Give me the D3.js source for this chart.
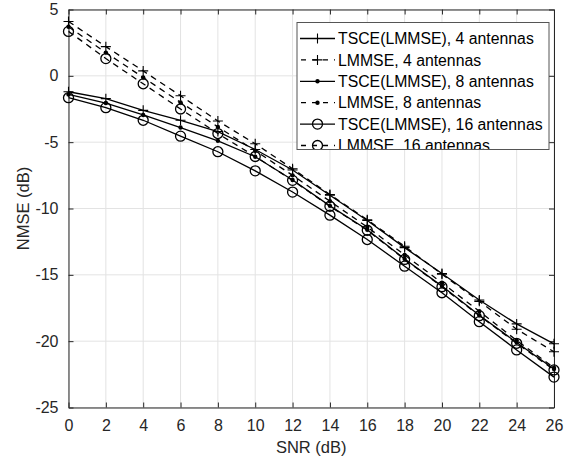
<!DOCTYPE html>
<html>
<head>
<meta charset="utf-8">
<script src="https://cdn.jsdelivr.net/npm/d3@7"></script>
<style>
  body { margin: 0; background: #fff; }
  text { font-family: "Liberation Sans", Arial, sans-serif; }
</style>
</head>
<body>
<svg id="chart" width="578" height="462"></svg>
<script>
// SNR sweep (dB)
const snr = [0, 2, 4, 6, 8, 10, 12, 14, 16, 18, 20, 22, 24, 26];

// NMSE (dB) per estimator / antenna count
const tsce4   = [-1.2, -1.72, -2.6, -3.35, -4.2, -5.55, -7.1, -9.0, -10.9, -12.95, -14.9, -16.9, -18.7, -20.2];
const lmmse4  = [4.1, 2.2, 0.37, -1.5, -3.4, -5.12, -7.0, -8.95, -10.85, -12.85, -14.95, -17.0, -19.1, -20.8];
const tsce8   = [-1.4, -2.05, -2.95, -3.9, -4.9, -6.1, -7.85, -9.8, -11.6, -13.8, -15.85, -18.05, -20.1, -22.1];
const lmmse8  = [3.7, 1.75, -0.12, -2.0, -3.85, -5.65, -7.5, -9.45, -11.4, -13.5, -15.6, -17.75, -19.95, -22.0];
const tsce16  = [-1.65, -2.4, -3.35, -4.55, -5.72, -7.16, -8.76, -10.5, -12.34, -14.35, -16.35, -18.53, -20.66, -22.71];
const lmmse16 = [3.35, 1.3, -0.6, -2.5, -4.35, -6.08, -7.88, -9.83, -11.64, -13.84, -15.9, -18.08, -20.16, -22.17];

const seriesLabels = [
  "TSCE(LMMSE), 4 antennas",
  "LMMSE, 4 antennas",
  "TSCE(LMMSE), 8 antennas",
  "LMMSE, 8 antennas",
  "TSCE(LMMSE), 16 antennas",
  "LMMSE, 16 antennas"
];
const seriesValues = [tsce4, lmmse4, tsce8, lmmse8, tsce16, lmmse16];
const seriesMarkers = ["plus", "plus", "dot", "dot", "circle", "circle"];
const seriesDashed = [false, true, false, true, false, true];

const xTickValues = [0, 2, 4, 6, 8, 10, 12, 14, 16, 18, 20, 22, 24, 26];
const yTickValues = [5, 0, -5, -10, -15, -20, -25];

const xLabel = "SNR (dB)";
const yLabel = "NMSE (dB)";

// ---- layout ----
const svg = d3.select("#chart");
const plot = { left: 68.5, right: 554, top: 9.5, bottom: 407.5 };
const axisColor = "#262626";
const gridColor = "#e3e3e3";

const x = d3.scaleLinear().domain([0, 26]).range([plot.left, plot.right]);
const y = d3.scaleLinear().domain([-25, 5]).range([plot.bottom, plot.top]);

// grid
const grid = svg.append("g");
grid.selectAll("line.gx").data(xTickValues).join("line")
  .attr("x1", d => x(d)).attr("x2", d => x(d))
  .attr("y1", plot.top).attr("y2", plot.bottom)
  .attr("stroke", gridColor).attr("stroke-width", 1);
grid.selectAll("line.gy").data(yTickValues).join("line")
  .attr("y1", d => y(d)).attr("y2", d => y(d))
  .attr("x1", plot.left).attr("x2", plot.right)
  .attr("stroke", gridColor).attr("stroke-width", 1);

// axes (ticks pointing inward on all four sides); plain hyphen for negatives
const tickLen = 5;
const fmt = d => String(d);
function styleAxis(g) {
  g.select(".domain").attr("stroke", axisColor).attr("stroke-width", 1);
  g.selectAll(".tick line").attr("stroke", axisColor);
  g.selectAll(".tick text").attr("fill", axisColor)
    .style("font-size", "16px").style("font-family", "'Liberation Sans', Arial, sans-serif");
}
svg.append("g").attr("transform", `translate(0,${plot.bottom})`)
  .call(d3.axisBottom(x).tickValues(xTickValues).tickFormat(fmt).tickSizeInner(-tickLen).tickSizeOuter(0).tickPadding(12))
  .call(styleAxis);
svg.append("g").attr("transform", `translate(0,${plot.top})`)
  .call(d3.axisTop(x).tickValues(xTickValues).tickFormat("").tickSizeInner(-tickLen).tickSizeOuter(0))
  .call(styleAxis);
svg.append("g").attr("transform", `translate(${plot.left},0)`)
  .call(d3.axisLeft(y).tickValues(yTickValues).tickFormat(fmt).tickSizeInner(-tickLen).tickSizeOuter(0).tickPadding(10))
  .call(styleAxis);
svg.append("g").attr("transform", `translate(${plot.right},0)`)
  .call(d3.axisRight(y).tickValues(yTickValues).tickFormat("").tickSizeInner(-tickLen).tickSizeOuter(0))
  .call(styleAxis);

// axis titles
svg.append("text")
  .attr("x", (plot.left + plot.right) / 2).attr("y", 453)
  .attr("text-anchor", "middle").attr("fill", axisColor)
  .style("font-size", "16.5px").text(xLabel);
svg.append("text")
  .attr("transform", `translate(29,${(plot.top + plot.bottom) / 2}) rotate(-90)`)
  .attr("text-anchor", "middle").attr("fill", axisColor)
  .style("font-size", "16.5px").text(yLabel);

// ---- markers ----
function drawMarker(g, type, cx, cy) {
  if (type === "plus") {
    g.append("path")
      .attr("d", `M${cx - 5},${cy}H${cx + 5}M${cx},${cy - 5}V${cy + 5}`)
      .attr("stroke", "#000").attr("stroke-width", 1.1).attr("fill", "none");
  } else if (type === "dot") {
    g.append("circle").attr("cx", cx).attr("cy", cy).attr("r", 2.2).attr("fill", "#000");
  } else {
    g.append("circle").attr("cx", cx).attr("cy", cy).attr("r", 5)
      .attr("stroke", "#000").attr("stroke-width", 1.3).attr("fill", "none");
  }
}

// ---- series ----
const line = d3.line().x(d => x(d[0])).y(d => y(d[1]));
const dataG = svg.append("g");
seriesValues.forEach((vals, i) => {
  const pts = snr.map((s, j) => [s, vals[j]]);
  dataG.append("path").datum(pts)
    .attr("d", line)
    .attr("fill", "none").attr("stroke", "#000").attr("stroke-width", 1.3)
    .attr("stroke-dasharray", seriesDashed[i] ? "6,5" : null);
  const mg = dataG.append("g");
  pts.forEach(p => drawMarker(mg, seriesMarkers[i], x(p[0]), y(p[1])));
});

// ---- legend (box is shorter than its last row, which gets clipped) ----
const leg = { left: 297, top: 22.5, right: 549, bottom: 149.5 };
svg.append("clipPath").attr("id", "legclip")
  .append("rect").attr("x", leg.left).attr("y", leg.top)
  .attr("width", leg.right - leg.left).attr("height", leg.bottom - leg.top);
svg.append("rect")
  .attr("x", leg.left).attr("y", leg.top)
  .attr("width", leg.right - leg.left).attr("height", leg.bottom - leg.top)
  .attr("fill", "#fff");
const legG = svg.append("g").attr("clip-path", "url(#legclip)");
const rowY = d3.scaleLinear().domain([0, 5]).range([38.5, 145.5]);
seriesLabels.forEach((lab, i) => {
  const cy = rowY(i);
  legG.append("line")
    .attr("x1", 300).attr("x2", 335).attr("y1", cy).attr("y2", cy)
    .attr("stroke", "#000").attr("stroke-width", 1.3)
    .attr("stroke-dasharray", seriesDashed[i] ? "5,6" : null)
    .attr("stroke-dashoffset", seriesDashed[i] ? -1 : null);
  drawMarker(legG, seriesMarkers[i], 317.5, cy);
  legG.append("text")
    .attr("x", 338).attr("y", cy).attr("dy", "0.36em")
    .attr("fill", "#000").style("font-size", "15.8px").text(lab);
});
svg.append("rect")
  .attr("x", leg.left).attr("y", leg.top)
  .attr("width", leg.right - leg.left).attr("height", leg.bottom - leg.top)
  .attr("fill", "none").attr("stroke", "#555").attr("stroke-width", 1);
</script>
</body>
</html>
